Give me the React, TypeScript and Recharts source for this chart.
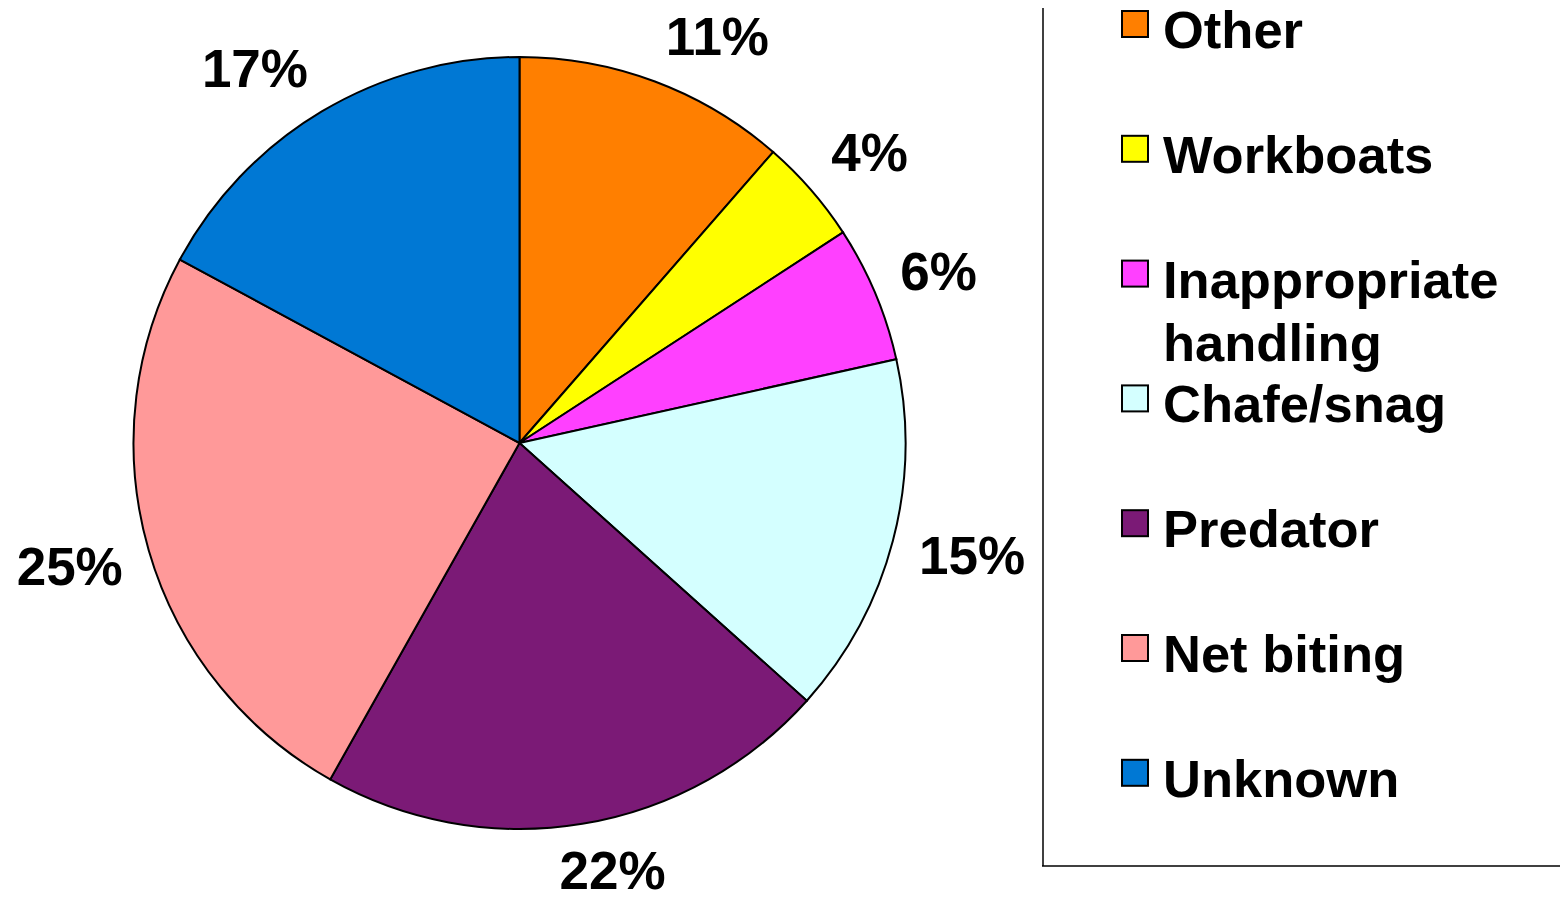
import React from 'react';
import { PieChart, Pie, Cell, Legend } from 'recharts';

const causes = ['Other', 'Workboats', 'Inappropriate handling', 'Chafe/snag', 'Predator', 'Net biting', 'Unknown'];
const shares = [11.4, 4.4, 5.7, 15.1, 21.5, 24.7, 17.1];
const colors = ['#FF7F00', '#FFFF00', '#FF40FF', '#D4FFFF', '#7B1A76', '#FF9999', '#0078D4'];
// legend text is wrapped like the original
const legendLines = [['Other'], ['Workboats'], ['Inappropriate', 'handling'], ['Chafe/snag'], ['Predator'], ['Net biting'], ['Unknown']];

const data = causes.map((name, i) => ({ name, value: shares[i] }));

const FONT = '"Liberation Sans", Arial, sans-serif';
const RAD = Math.PI / 180;
const clamp = (v: number) => Math.max(-1, Math.min(1, v));

// label box hugs a point just outside the rim, like Excel's outside-end labels
const renderLabel = (props: any) => {
    const { cx, cy, midAngle, outerRadius, percent } = props;
    const r = outerRadius + 27;
    const ax = cx + r * Math.cos(-midAngle * RAD);
    const ay = cy + r * Math.sin(-midAngle * RAD);
    const text = `${Math.round(percent * 100)}%`;
    const fs = 53;
    const w = fs * (0.556 * (text.length - 1) + 0.889);
    const h = 40;
    const x = ax + (w / 2) * clamp(3 * Math.cos(midAngle * RAD));
    const yc = ay - (h / 2) * clamp(1.5 * Math.sin(midAngle * RAD));
    return (
        <text x={x} y={yc + 19} textAnchor="middle" fill="#000" fontFamily={FONT} fontWeight="bold" fontSize={fs}>
            {text}
        </text>
    );
};

const renderLegend = () => (
    <svg width={526} height={903} style={{ display: 'block', overflow: 'visible' }}>
        <line x1={1} y1={-20} x2={1} y2={866} stroke="#000" strokeWidth={1.5} />
        <line x1={0} y1={866} x2={560} y2={866} stroke="#000" strokeWidth={1.5} />
        {legendLines.map((lines, i) => {
            const base = 48 + i * 124.8;
            return (
                <g key={causes[i]}>
                    <rect x={80} y={base - 37} width={26} height={26} fill={colors[i]} stroke="#000" strokeWidth={2} />
                    {lines.map((ln, j) => (
                        <text key={ln} x={121} y={base + j * 63} fill="#000" fontFamily={FONT} fontWeight="bold" fontSize={52.5}>
                            {ln}
                        </text>
                    ))}
                </g>
            );
        })}
    </svg>
);

export default function App() {
    return (
        <div style={{ marginLeft: -8, marginTop: -8, marginBottom: -8, width: 1568, height: 903, overflow: 'hidden', background: '#fff' }}>
            <PieChart width={1568} height={903} margin={{ top: 0, right: 0, bottom: 0, left: 0 }}>
                <Pie
                    data={data}
                    dataKey="value"
                    nameKey="name"
                    cx={519.5}
                    cy={443}
                    outerRadius={386}
                    startAngle={90}
                    endAngle={-270}
                    stroke="#000"
                    strokeWidth={2}
                    label={renderLabel}
                    labelLine={false}
                    isAnimationActive={false}
                >
                    {data.map((d, i) => (
                        <Cell key={d.name} fill={colors[i]} />
                    ))}
                </Pie>
                <Legend
                    layout="vertical"
                    align="right"
                    verticalAlign="top"
                    content={renderLegend}
                    wrapperStyle={{ position: 'absolute', left: 1042, top: 0, width: 526, height: 903 }}
                />
            </PieChart>
        </div>
    );
}
